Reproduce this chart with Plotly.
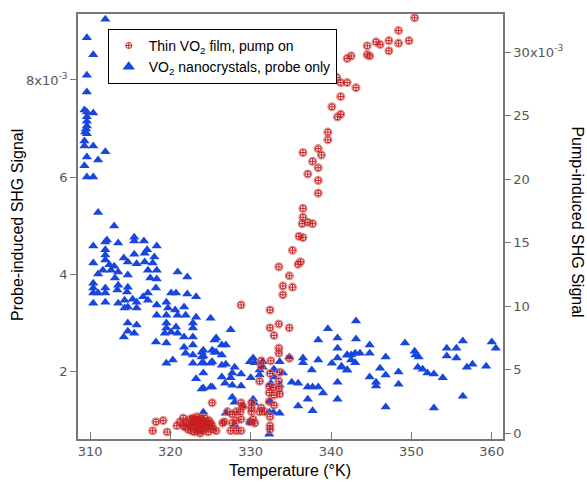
import plotly.graph_objects as go

# ---------------- data (signals in units of 1e-3) ----------------
probe_T = [
    311.9, 309.6, 310.4, 309.6, 309.6, 309.3, 309.6, 310.4, 309.6, 309.6, 309.6, 309.5, 309.4, 309.6,
    309.3, 309.3, 310.4, 311.9, 309.6, 311.0, 309.3, 309.6, 310.4, 311.0,
    313.0, 310.4, 312.1, 311.9, 313.5, 315.5, 315.5, 316.7, 318.3, 317.1, 316.8, 311.9, 311.9, 311.9,
    315.5, 314.2, 318.0, 310.4, 312.4, 313.0, 314.7, 315.8, 316.8, 317.8, 312.6, 313.5, 311.6, 320.9,
    322.1, 311.0, 317.2, 318.3, 314.7, 317.5, 318.3, 313.1, 310.4, 310.4, 310.4, 311.9, 313.5, 314.7,
    318.2, 311.0, 311.9, 313.4, 314.6, 317.2, 316.6, 315.3, 310.4, 311.9, 313.5, 314.3, 315.8, 317.2,
    320.1, 320.7, 322.1, 323.2, 319.5, 318.3, 314.7, 315.8, 314.3, 319.7, 320.6, 321.7, 318.3, 319.5,
    320.9, 321.9, 323.2, 314.7, 315.8, 319.5, 319.5, 320.7, 322.8, 322.8, 325.0, 314.7, 314.2, 315.5,
    319.3, 320.1, 320.9, 321.7, 322.8, 318.2, 319.5, 321.7, 322.8, 325.5, 321.9, 322.8, 323.9, 323.9,
    325.5, 319.5, 320.3, 322.8, 323.9, 325.0, 323.2, 323.9, 325.0,
    327.5, 325.7, 324.1, 325.2, 326.4, 326.9, 325.7, 326.4, 324.1, 325.2, 324.1, 326.4, 326.9, 328.0,
    330.3, 329.9, 331.5, 330.5, 332.8, 331.1, 333.6, 334.8, 336.5, 336.5, 337.6, 338.4, 339.6, 340.8,
    338.4, 340.8, 340.8, 342.0, 340.1, 341.3, 342.0, 324.1, 325.2, 324.1, 326.4, 327.7, 327.5, 328.8,
    326.8, 327.7, 328.8, 330.0, 331.1, 331.5, 332.9, 332.9, 332.5, 333.6, 334.0, 335.1, 335.9, 337.1,
    337.7, 338.4, 339.0, 340.8, 340.8, 337.1, 335.9, 337.7, 327.7, 328.0, 329.0, 330.3, 330.4, 332.4,
    332.8, 333.6, 332.3, 326.9, 324.1, 329.9, 328.0, 332.3, 328.0, 330.0,
    343.1, 343.1, 344.8, 344.8, 349.2, 350.4, 350.5, 350.9, 342.0, 342.5, 343.0, 343.6, 342.5, 343.0,
    341.3, 342.0, 346.8, 346.1, 346.8, 344.8, 345.6, 345.6, 348.4, 348.4, 350.8, 351.4, 352.0, 352.8,
    353.9, 354.4, 354.4, 355.6, 355.6, 356.4, 356.9, 357.6, 359.3, 360.0, 360.5, 356.4, 346.8, 352.8,
]
probe_signal = [
    9.25, 8.87, 8.52, 8.10, 7.75, 7.38, 7.34, 7.32, 7.24, 7.15, 7.05, 6.99, 6.93, 6.89,
    6.74, 6.64, 6.64, 6.52, 6.41, 6.35, 6.23, 6.00, 6.00, 5.27,
    4.99, 4.58, 4.70, 4.66, 4.64, 4.76, 4.68, 4.68, 4.58, 4.50, 4.43, 4.50, 4.39, 4.29,
    4.41, 4.33, 4.35, 4.23, 4.19, 4.16, 4.25, 4.21, 4.25, 4.23, 4.08, 4.04, 4.08, 4.04,
    3.94, 4.00, 4.08, 4.08, 3.98, 3.92, 3.90, 3.92, 3.81, 3.71, 3.61, 3.71, 3.77, 3.73,
    3.71, 3.61, 3.61, 3.67, 3.63, 3.61, 3.53, 3.48, 3.40, 3.42, 3.40, 3.46, 3.42, 3.46,
    3.61, 3.61, 3.59, 3.53, 3.42, 3.36, 3.32, 3.30, 3.30, 3.30, 3.26, 3.32, 3.15, 3.15,
    3.15, 3.15, 3.11, 2.99, 2.95, 2.99, 2.89, 2.91, 2.99, 2.89, 3.09, 2.82, 2.70, 2.78,
    2.78, 2.80, 2.78, 2.70, 2.70, 2.60, 2.58, 2.49, 2.54, 2.64, 2.37, 2.33, 2.39, 2.29,
    2.39, 2.16, 2.23, 2.16, 2.16, 2.16, 1.84, 1.63, 1.67,
    2.85, 2.68, 2.43, 2.43, 2.54, 2.54, 2.39, 2.33, 2.31, 2.19, 2.17, 2.12, 2.14, 2.08,
    2.27, 2.19, 2.19, 2.17, 2.02, 2.02, 2.19, 2.29, 2.27, 2.17, 2.02, 2.23, 2.87, 2.68,
    2.64, 2.47, 2.27, 2.33, 2.16, 2.08, 2.02, 1.96, 1.67, 1.65, 1.88, 1.96, 1.86, 1.94,
    1.75, 1.71, 1.69, 1.86, 1.92, 2.08, 2.04, 1.88, 1.75, 1.71, 1.96, 1.77, 1.75, 1.67,
    1.67, 1.67, 1.55, 1.77, 1.42, 1.42, 1.28, 1.18, 1.46, 1.36, 1.28, 1.42, 1.34, 1.38,
    1.15, 1.13, 1.15, 1.13, 1.15, 0.95, 0.87, 0.70, 0.89, 0.93,
    3.03, 2.66, 2.54, 2.37, 2.58, 2.41, 2.33, 2.29, 2.33, 2.33, 2.37, 2.37, 2.23, 2.17,
    2.10, 2.02, 2.29, 2.06, 1.92, 1.88, 1.77, 1.69, 1.98, 1.73, 2.08, 2.04, 1.96, 1.94,
    1.86, 2.47, 2.31, 2.47, 2.27, 2.62, 2.08, 2.14, 2.10, 2.60, 2.47, 1.48, 1.26, 1.24,
]

pump_T = [
    350.4, 348.4, 347.2, 347.2, 348.4, 349.7, 345.6, 346.1, 344.5, 344.5, 344.8, 342.0, 342.5, 340.7,
    341.2, 342.0, 343.1, 341.2, 340.1, 341.2, 340.8, 339.6, 339.6, 338.4, 338.8, 336.5, 337.7, 338.4,
    337.1, 338.4, 338.4, 336.5, 336.5, 337.1, 337.7, 336.4, 336.5, 336.0, 336.2, 335.2, 335.9, 333.5,
    334.8, 334.0, 335.2, 334.0, 328.8, 332.4, 332.4, 333.5, 334.8, 332.9, 333.5, 333.5, 334.8, 331.3,
    332.5, 332.4, 331.3, 333.6, 333.5, 331.1, 332.3, 332.8, 333.5, 332.3, 332.9, 333.6, 332.9, 332.3,
    325.2, 328.8, 329.0, 330.1, 331.3, 330.1, 331.1, 331.7, 328.7, 328.2, 327.7, 327.1, 332.4, 330.3,
    330.5, 329.9, 328.8, 328.2, 327.7, 326.7, 326.5, 332.4, 327.5, 328.2, 328.8, 325.3, 325.7, 325.2,
    330.1, 332.4,
    318.2, 319.1, 317.8, 319.6, 321.6, 321.6, 320.8, 321.2,
    321.8, 322.0, 322.2, 322.4, 322.5, 322.6, 322.7, 322.8, 322.9, 323.0, 323.0, 323.1, 323.2, 323.3,
    323.3, 323.4, 323.5, 323.6, 323.6, 323.7, 323.8, 323.9, 324.0, 324.0, 324.1, 324.2, 324.3, 324.4,
    324.5, 324.6, 324.7, 324.8, 324.9, 325.0, 322.3, 323.5, 324.1, 322.9, 323.8,
]
pump_signal = [
    32.7, 31.7, 30.9, 30.1, 30.7, 30.9, 30.8, 30.6, 30.5, 29.8, 29.7, 29.5, 29.7, 28.0,
    27.6, 27.6, 27.2, 26.5, 25.7, 25.1, 24.9, 23.7, 23.1, 22.4, 21.9, 22.1, 21.4, 20.9,
    20.4, 19.9, 18.9, 17.7, 17.0, 16.6, 16.5, 16.5, 15.4, 15.5, 13.5, 14.4, 13.3, 13.1,
    12.4, 11.6, 11.5, 10.9, 10.1, 9.7, 8.3, 8.6, 8.3, 7.7, 6.7, 6.3, 5.9, 5.7,
    5.7, 4.7, 5.3, 4.8, 4.1, 4.1, 3.7, 3.6, 3.5, 3.2, 3.0, 3.1, 2.2, 2.5,
    2.4, 2.4, 2.1, 2.0, 2.0, 1.7, 1.7, 1.7, 1.7, 1.7, 1.5, 1.7, 1.3, 1.1,
    0.8, 0.9, 1.1, 1.0, 0.8, 0.9, 0.8, 0.6, 0.2, 0.2, 0.2, 0.3, 0.2, 0.6,
    2.4, 0.3,
    0.9, 1.0, 0.2, 0.1, 1.2, 0.6, 0.6, 0.9,
    0.5, 0.9, 0.3, 1.1, 0.6, 0.2, 0.9, 1.2, 0.5, 0.8, 0.1, 1.0, 0.4, 0.7,
    1.3, 0.2, 0.9, 0.5, 1.1, 0.0, 0.7, 0.3, 1.0, 0.6, 0.2, 0.8, 1.2, 0.4,
    0.9, 0.6, 0.1, 1.0, 0.5, 0.8, 0.7, 0.3, 0.9, 1.1, 1.2,
]

left_tickvals = [2, 4, 6, 8]
left_ticktext = ["2", "4", "6", "8x10<sup>-3</sup>"]
right_tickvals = [0, 5, 10, 15, 20, 25, 30]
right_ticktext = ["0", "5", "10", "15", "20", "25", "30x10<sup>-3</sup>"]
x_tickvals = [310, 320, 330, 340, 350, 360]

RED = "rgb(200,30,30)"
BLUE = "rgb(25,70,220)"

# ---------------- figure ----------------
fig = go.Figure()
fig.add_trace(go.Scatter(
    x=probe_T, y=probe_signal, mode="markers", yaxis="y", showlegend=False,
    name="probe", marker=dict(symbol="triangle-up", size=9, color=BLUE, line=dict(width=0))))
# pink halo under each red marker (as in the original)
fig.add_trace(go.Scatter(
    x=pump_T, y=pump_signal, mode="markers", yaxis="y2", showlegend=False, hoverinfo="skip",
    marker=dict(symbol="circle-open", size=8, color="rgba(215,120,120,0.8)",
                line=dict(width=1.2, color="rgba(215,120,120,0.8)"))))
fig.add_trace(go.Scatter(
    x=pump_T, y=pump_signal, mode="markers", yaxis="y2",
    name="Thin VO<sub>2</sub> film, pump on",
    marker=dict(symbol="circle-cross-open", size=6, color=RED,
                line=dict(width=1, color=RED))))
# legend proxy for probe (keeps legend order: pump first)
fig.add_trace(go.Scatter(
    x=[None], y=[None], mode="markers", yaxis="y",
    name="VO<sub>2</sub> nanocrystals, probe only",
    marker=dict(symbol="triangle-up", size=11, color=BLUE)))

tickfont = dict(family="DejaVu Sans", size=13, color="#555")
axline = dict(showline=True, linecolor="#777", linewidth=1.5)

fig.update_layout(
    width=587, height=485,
    margin=dict(l=78, r=84, t=14, b=46),
    paper_bgcolor="white", plot_bgcolor="white",
    xaxis=dict(range=[308.5, 361.4], tickvals=x_tickvals, ticks="inside", ticklen=7,
               tickcolor="#777", mirror=True, showgrid=False, zeroline=False,
               tickfont=tickfont, **axline),
    yaxis=dict(range=[0.6, 9.36], tickvals=left_tickvals, ticktext=left_ticktext,
               ticks="outside", ticklen=6, tickcolor="#777", showgrid=False, zeroline=False,
               tickfont=tickfont, **axline),
    yaxis2=dict(range=[-0.45, 33.0], tickvals=right_tickvals, ticktext=right_ticktext,
                overlaying="y", side="right", ticks="outside", ticklen=6, tickcolor="#777",
                showgrid=False, zeroline=False, tickfont=tickfont, **axline),
    legend=dict(x=0.07, y=0.965, xanchor="left", yanchor="top", bgcolor="white",
                bordercolor="black", borderwidth=1,
                font=dict(family="Liberation Sans", size=14, color="black"),
                tracegroupgap=0, itemsizing="trace"),
    annotations=[
        dict(text="Temperature (°K)", xref="paper", yref="paper", x=0.499, y=-0.073,
             xanchor="center", yanchor="middle", showarrow=False,
             font=dict(family="Liberation Sans", size=16, color="black")),
        dict(text="Probe-induced SHG Signal", xref="paper", yref="paper", x=-0.141, y=0.504,
             xanchor="center", yanchor="middle", textangle=-90, showarrow=False,
             font=dict(family="Liberation Sans", size=16, color="black")),
        dict(text="Pump-induced SHG Signal", xref="paper", yref="paper", x=1.176, y=0.51,
             xanchor="center", yanchor="middle", textangle=90, showarrow=False,
             font=dict(family="Liberation Sans", size=16, color="black")),
    ],
)

fig.write_html("out.html")
